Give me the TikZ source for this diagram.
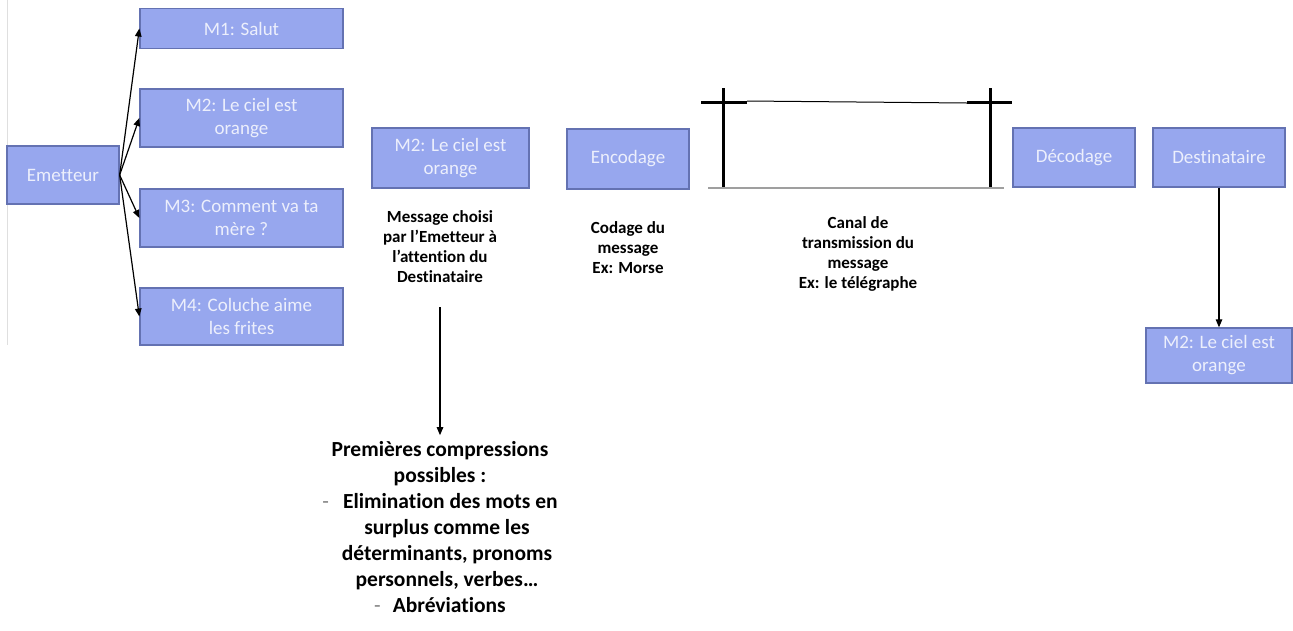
\documentclass[tikz,border=0pt]{standalone}
\usepackage{fontspec}
\setmainfont[Ligatures=NoCommon]{Carlito}
\usetikzlibrary{arrows.meta}
\definecolor{boxfill}{RGB}{151,167,238}
\definecolor{boxline}{RGB}{100,114,178}
\definecolor{boxtext}{RGB}{236,239,252}

\begin{document}
\begin{tikzpicture}[x=1pt,y=-1pt,
  bloc/.style={draw=boxline, line width=1.3pt, fill=boxfill, text=boxtext, align=center, inner sep=2pt, font=\fontsize{19}{23}\selectfont},
  legende/.style={align=center, inner sep=0pt, font=\bfseries\fontsize{17}{20}\selectfont},
  fleche/.style={-{Triangle[length=8pt,width=6.5pt]}, line width=1.2pt},
  poteau/.style={line width=3pt}]

\useasboundingbox (0,0) rectangle (1293,630);
\draw[very thin, gray!25] (7,0) -- (7,345);

%emetteur et messages
\node[bloc, minimum width=112pt, minimum height=58pt] at (63,175) (emet) {Emetteur};
\node[bloc, minimum width=203pt, minimum height=40pt] at (241.5,28.5) (m1) {M1: Salut};
\node[bloc, minimum width=203pt, minimum height=58pt] at (241.5,118) (m2) {M2: Le ciel est\\orange};
\node[bloc, minimum width=203pt, minimum height=58pt] at (241.5,218) (m3) {M3: Comment va ta\\mère ?};
\node[bloc, minimum width=203pt, minimum height=57pt] at (241.5,316.5) (m4) {M4: Coluche aime\\les frites};

\draw[fleche] (emet.east) -- (m1.west);
\draw[fleche] (emet.east) -- (m2.west);
\draw[fleche] (emet.east) -- (m3.west);
\draw[fleche] (emet.east) -- (m4.west);

%chaine de transmission
\node[bloc, minimum width=157pt, minimum height=60pt] at (450.5,158) (choisi) {M2: Le ciel est\\orange};
\node[bloc, minimum width=122pt, minimum height=60pt] at (628,159) (enc) {Encodage};
\node[bloc, minimum width=122pt, minimum height=59pt] at (1074,157.5) (dec) {Décodage};
\node[bloc, minimum width=132pt, minimum height=59pt] at (1219,157.5) (dest) {Destinataire};
\node[bloc, minimum width=146pt, minimum height=55pt] at (1219,355.5) (recu) {M2: Le ciel est\\orange};

\draw[fleche] (dest.south) -- (recu.north);

%legendes
\node[legende] at (440,247) (txtmsg) {Message choisi\\par l’Emetteur à\\l’attention du\\Destinataire};
\node[legende] at (628,248) (txtenc) {Codage du\\message\\Ex: Morse};
\node[legende] at (858,254) (txtcanal) {Canal de\\transmission du\\message\\Ex: le télégraphe};

\node[align=center, inner sep=0pt, font=\bfseries\fontsize{21.5}{26}\selectfont] at (440,527) (compr)
  {Premières compressions\\possibles~:\\{\mdseries\color{gray}-}\hspace{14pt}Elimination des mots en\\\hspace*{14pt}surplus comme les\\\hspace*{14pt}déterminants, pronoms\\\hspace*{14pt}personnels, verbes…\\{\mdseries\color{gray}-}\hspace{12pt}Abréviations};

\coordinate (depart) at (440,307);
\draw[fleche] (depart) -- ([yshift=6pt]compr.north);

%telegraphe
\draw[poteau] (723,88) -- (723,188);
\draw[poteau] (701,102) -- (747,102);
\draw[poteau] (990,88) -- (990,188);
\draw[poteau] (967,102) -- (1012,102);
\draw[line width=1pt] (747,101) -- (857,102) -- (967,103);
\draw[line width=1.5pt, gray!75] (708,188) -- (1004,188);

\end{tikzpicture}
\end{document}
